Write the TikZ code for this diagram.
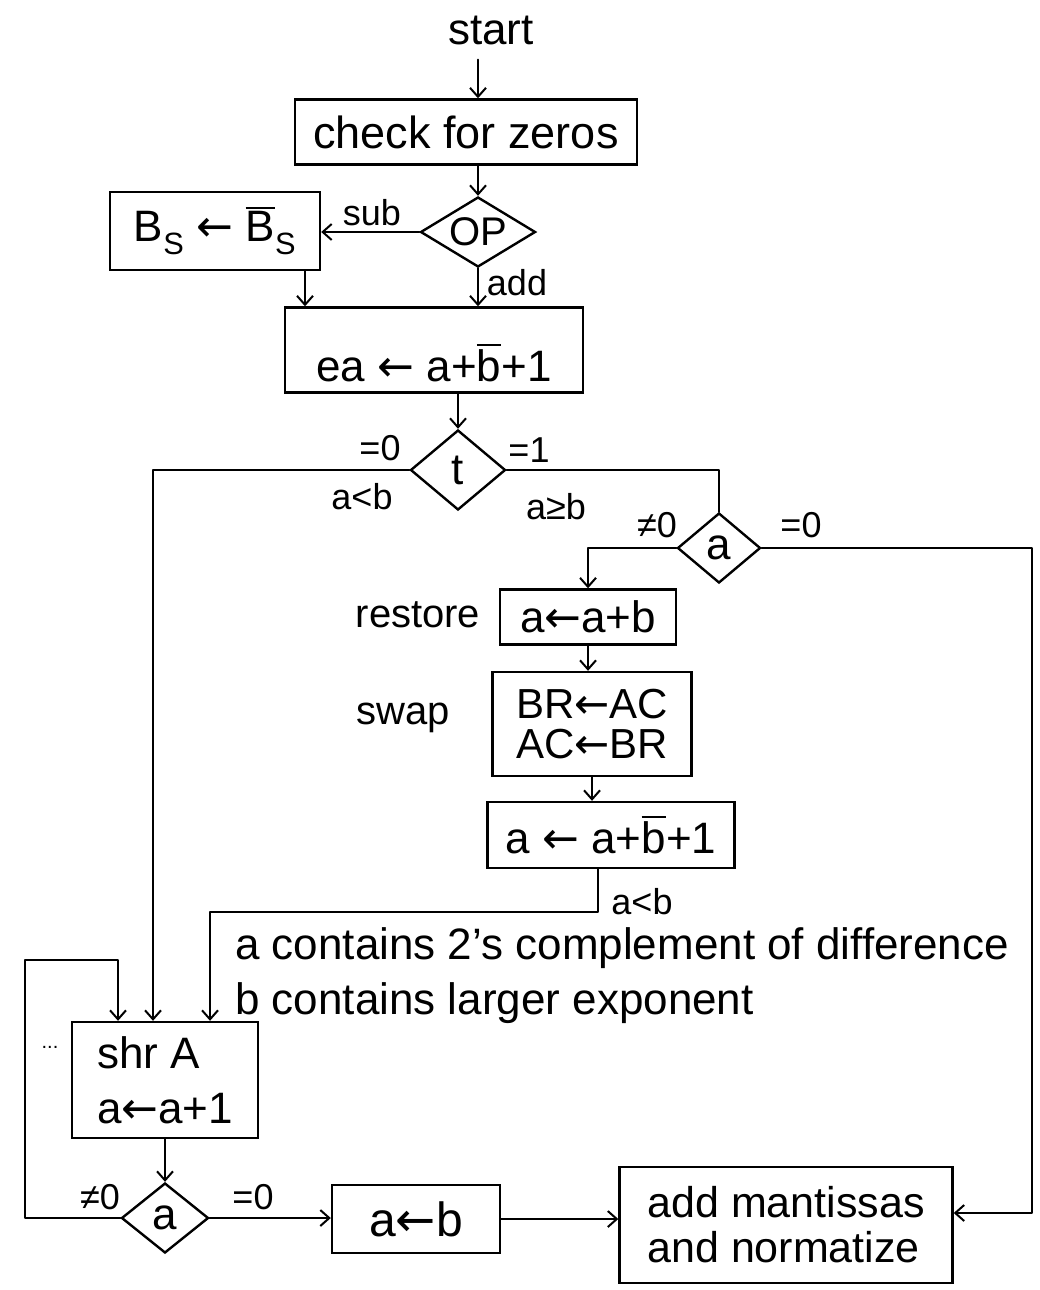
\documentclass[tikz,border=0pt]{standalone}
\usepackage{fontspec}
\setmainfont{Liberation Sans}
\newfontfamily\dv{DejaVu Sans}
\usetikzlibrary{arrows.meta,shapes.geometric}
\newcommand\fs[1]{\fontsize{#1}{#1}\selectfont}
\newcommand\obar[1]{\vbox{\hrule height 1.8pt\kern 3pt\hbox{#1}}}
\newcommand\la{{\dv ←}}
\begin{document}
\begin{tikzpicture}[x=1pt,y=-1pt,
  every node/.style={inner sep=0pt},
  ln/.style={line width=2.2pt, line join=round, line cap=round},
  arr/.style={ln, -{Straight Barb[length=9pt,width=16pt,line width=2pt]}},
  box/.style={draw, line width=2.4pt, rectangle},
  dia/.style={draw, line width=2.4pt, diamond},
  lbl/.style={font=\fs{36}},
]
\useasboundingbox (0,0) rectangle (1039,1290);

% nodes
\node[font=\fs{44}] (start) at (491,30) {start};
\node[box, minimum width=342pt, minimum height=65pt, font=\fs{45}] (check) at (466,132) {check for zeros};
\node[box, minimum width=210pt, minimum height=78pt, font=\fs{44}] (bs) at (215,231) {B\textsubscript{S} \la\ \obar{B}\textsubscript{S}};
\node[dia, minimum width=115pt, minimum height=70pt, label={[font=\fs{40}]center:OP}] (op) at (478,232) {};
\node[box, minimum width=298pt, minimum height=85pt, label={[font=\fs{44}, yshift=-13pt]center:ea \la\ a+\obar{b}+1}] (ea) at (434,350) {};
\node[dia, minimum width=95pt, minimum height=80pt, label={[font=\fs{44}]center:t}] (t) at (458,470) {};
\node[dia, minimum width=83pt, minimum height=70pt, label={[font=\fs{44}]center:a}] (da) at (719,548) {};
\node[box, minimum width=176pt, minimum height=55pt, font=\fs{44}] (restore) at (588,617) {a\la a+b};
\node[box, minimum width=199pt, minimum height=104pt, font=\fontsize{42}{40}\selectfont, align=center] (swap) at (592,724) {BR\la AC\\AC\la BR};
\node[box, minimum width=247pt, minimum height=66pt, font=\fs{44}] (sub2) at (611,835) {a \la\ a+\obar{b}+1};
\node[box, minimum width=186pt, minimum height=116pt, font=\fontsize{44}{55}\selectfont, align=left] (shr) at (165,1080) {shr A\\a\la a+1};
\node[dia, minimum width=87pt, minimum height=70pt, label={[font=\fs{44}]center:a}] (db) at (165,1218) {};
\node[box, minimum width=168pt, minimum height=68pt, font=\fs{48}] (aob) at (416,1219) {a\la b};
\node[box, minimum width=333pt, minimum height=116pt, font=\fontsize{43}{45}\selectfont, align=left] (add) at (786,1225) {add mantissas\\and normatize};

% labels
\node[lbl] (lsub) at (372,213) {sub};
\node[lbl] (ladd) at (517,283) {add};
\node[lbl] (lt0) at (380,448) {=0};
\node[lbl] (ltlt) at (362,497) {a<b};
\node[lbl] (lt1) at (529,450) {=1};
\node[lbl] (ltge) at (556,507) {a≥b};
\node[lbl] (la1) at (657,525) {≠0};
\node[lbl] (la0) at (801,525) {=0};
\node[font=\fs{40}] (lrestore) at (418,615) {restore};
\node[font=\fs{40}] (lswap) at (403,718) {swap};
\node[lbl] (llt2) at (642,902) {a<b};
\node[font=\fs{44}, anchor=west] (note1) at (235,948) {a contains 2's complement of difference};
\node[font=\fs{44}, anchor=west] (note2) at (235,1003) {b contains larger exponent};
\node[font=\fs{20}] (dots) at (50,1047) {...};
\node[lbl] (lb1) at (100,1197) {≠0};
\node[lbl] (lb0) at (253,1197) {=0};

% connectors
\coordinate (s1) at ([xshift=-13pt,yshift=-15pt]start.south);
\draw[arr] (s1) -- (s1 |- check.north);
\draw[arr] (op.north |- check.south) -- (op.north);
\draw[arr] (op.west) -- (op.west -| bs.east);
\coordinate (b1) at ([xshift=90pt]bs.south);
\draw[arr] (b1) -- (b1 |- ea.north);
\draw[arr] (op.south) -- (op.south |- ea.north);
\draw[arr] (t.north |- ea.south) -- (t.north);
\coordinate (t1) at ([xshift=-12pt]shr.north);
\draw[arr] (t.west) -| (t1);
\draw[ln] (t.east) -| (da.north);
\draw[arr] (da.west) -| (restore.north);
\coordinate (rc) at (1032,550);
\coordinate (ain) at ([yshift=12pt]add.east);
\draw[arr] (da.east) -- (da.east -| rc) -- (rc |- ain) -- (ain);
\draw[arr] (restore.south) -- (restore.south |- swap.north);
\draw[arr] (swap.south) -- (swap.south |- sub2.north);
\coordinate (j1) at (598,912);
\coordinate (j2) at ([xshift=45pt]shr.north);
\draw[arr] (sub2.south -| j1) -- (j1) -| (j2);
\draw[arr] (shr.south) -- (db.north);
\coordinate (lp) at (25,960);
\coordinate (j3) at ([xshift=-47pt]shr.north);
\draw[arr] (db.west) -| (lp) -| (j3);
\draw[arr] (db.east) -- (db.east -| aob.west);
\draw[arr] (aob.east) -- (aob.east -| add.west);
\end{tikzpicture}
\end{document}
